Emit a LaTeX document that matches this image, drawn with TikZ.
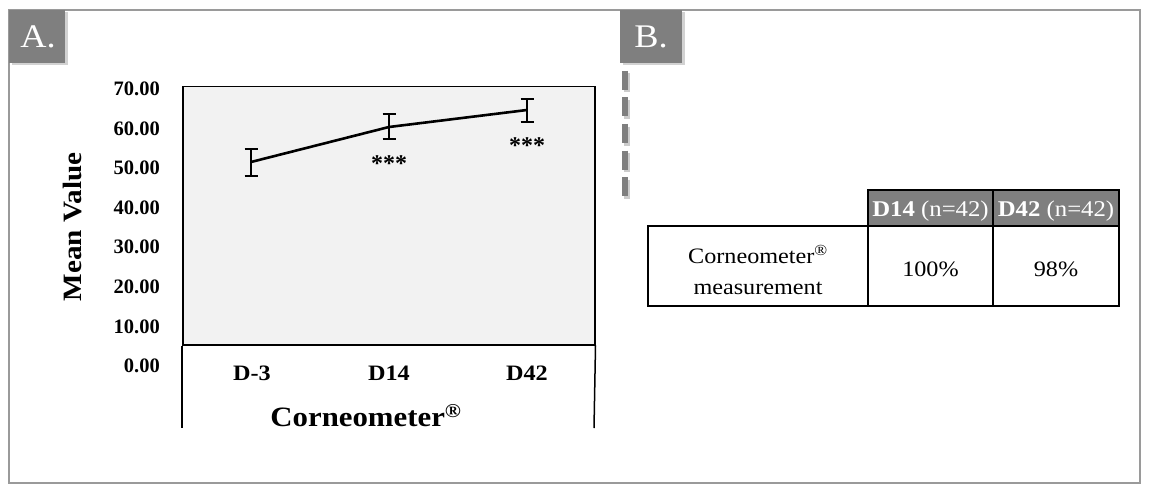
\documentclass[tikz,border=0pt]{standalone}
\usepackage{fontspec}
\setmainfont{Liberation Serif}[FakeStretch=1.1]
\newfontfamily\numfont{Liberation Serif}
\usetikzlibrary{shadows}
\definecolor{framegray}{HTML}{9A9A9A}
\definecolor{boxgray}{HTML}{7F7F7F}
\definecolor{plotbg}{HTML}{F2F2F2}
\begin{document}
\begin{tikzpicture}[x=1pt,y=-1pt,
  panel/.style={fill=boxgray, inner sep=0pt,
    drop shadow={opacity=0.35, shadow xshift=2.5pt, shadow yshift=-2.5pt}},
  paneltext/.style={text=white, inner sep=0pt, font=\fontsize{33}{36}\selectfont},
  tick/.style={anchor=east, inner sep=0pt, font=\numfont\bfseries\fontsize{20.5}{24}\selectfont},
  cat/.style={anchor=base, inner sep=0pt, font=\bfseries\fontsize{22}{26}\selectfont},
  stars/.style={anchor=base, inner sep=0pt, font=\numfont\bfseries\fontsize{24}{28}\selectfont},
  errbar/.style={line width=2.6pt},
  dataline/.style={line width=2.6pt, line join=round},
  axisline/.style={line width=1.5pt},
  cell/.style={draw=black, line width=1.1pt, inner sep=0pt},
  hcell/.style={cell, fill=boxgray},
  htext/.style={anchor=base, inner sep=0pt, text=white, font=\fontsize{22.5}{26}\selectfont},
  ctext/.style={anchor=base, inner sep=0pt, font=\fontsize{22}{26}\selectfont}
]
\fill[white] (0,0) rectangle (1150,492);
\useasboundingbox (0,0) rectangle (1150,492);

% outer frame
\draw[framegray, line width=2pt] (9,10) rectangle (1140,483);

% panel labels
\node[panel, minimum width=56pt, minimum height=53pt] (labA) at (37,36.5) {};
\node[paneltext] (labAt) at (38,37) {A.};
\node[panel, minimum width=62pt, minimum height=53pt] (labB) at (651,36.5) {};
\node[paneltext] (labBt) at (651,37) {B.};

% dashed separator
\draw[black!20, line width=6pt, dash pattern=on 19pt off 7.5pt] (627,73.5) -- (627,198.5);
\draw[boxgray, line width=6pt, dash pattern=on 19pt off 7.5pt] (624.5,71) -- (624.5,196);

% plot area
\node[draw=black, line width=1.5pt, fill=plotbg, minimum width=412pt, minimum height=258pt,
      inner sep=0pt, anchor=north west] (plot) at (182,86) {};
\coordinate (lb) at (182,428);
\coordinate (rb) at (594,428);
\draw[axisline] (plot.south west) -- (lb);
\draw[axisline] (plot.south east) -- (rb);

% y tick labels
\foreach \v in {0,10,...,70} {
  \node[tick] (t\v) at (160,{366-\v*3.957}) {\v.00};
}
\node[rotate=90, inner sep=0pt, font=\bfseries\fontsize{26.5}{30}\selectfont] (ylab) at (73,227) {Mean Value};

% categories
\node[cat] (c1) at (252,380.5) {D-3};
\node[cat] (c2) at (389,380.5) {D14};
\node[cat] (c3) at (527,380.5) {D42};

% x title (clipped at the bottom like the original)
\begin{scope}
  \clip (0,0) rectangle (1150,428);
  \node[anchor=base, inner sep=0pt, font=\bfseries\fontsize{28}{32}\selectfont] (xlab) at (366,426.5)
    {Corneometer\textsuperscript{\textregistered}};
\end{scope}

% data
\coordinate (p1) at (251,162);
\coordinate (p2) at (389,127);
\coordinate (p3) at (527,110);
\draw[dataline] (p1) -- (p2) -- (p3);
\draw[errbar] (251,149) -- (251,176) (244.5,149) -- (257.5,149) (244.5,176) -- (257.5,176);
\draw[errbar] (389,114) -- (389,139) (382.5,114) -- (395.5,114) (382.5,139) -- (395.5,139);
\draw[errbar] (527,99) -- (527,122) (520.5,99) -- (533.5,99) (520.5,122) -- (533.5,122);
\node[stars] (s2) at (389,171) {***};
\node[stars] (s3) at (527,153) {***};

% table
\node[hcell, minimum width=125pt, minimum height=36pt] (h1) at (930.5,208) {};
\node[hcell, minimum width=126pt, minimum height=36pt] (h2) at (1056,208) {};
\node[cell, minimum width=220pt, minimum height=80pt] (b0) at (758,266) {};
\node[cell, minimum width=125pt, minimum height=80pt] (b1) at (930.5,266) {};
\node[cell, minimum width=126pt, minimum height=80pt] (b2) at (1056,266) {};
\node[htext] (h1t) at (930.5,216) {\textbf{D14} (n=42)};
\node[htext] (h2t) at (1056,216) {\textbf{D42} (n=42)};
\node[ctext] (b0a) at (758,263) {Corneometer\textsuperscript{\textregistered}};
\node[ctext] (b0b) at (758,294) {measurement};
\node[ctext] (b1t) at (930.5,276) {100\%};
\node[ctext] (b2t) at (1056,276) {98\%};
\end{tikzpicture}
\end{document}
